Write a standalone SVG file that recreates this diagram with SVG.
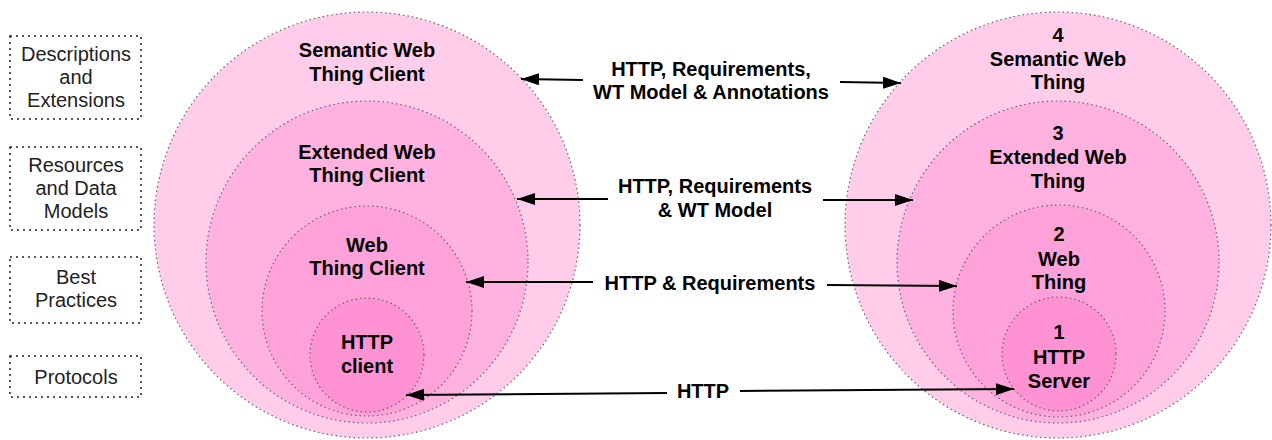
<svg xmlns="http://www.w3.org/2000/svg" width="1272" height="440" viewBox="0 0 1272 440">
<style>
.c{stroke:#666;stroke-width:1.2;stroke-dasharray:1.5 3}
.c1{fill:#FFCCEA}.c2{fill:#FFB2DF}.c3{fill:#FFA2D9}.c4{fill:#FF92D3}
.lbl{font-family:"Liberation Sans",Arial,sans-serif;font-size:20px;font-weight:bold;fill:#000;text-anchor:middle}
.box{fill:#fff;stroke:#222;stroke-width:1.5;stroke-dasharray:2 4}
.bt{font-family:"Liberation Sans",Arial,sans-serif;font-size:20px;fill:#222;text-anchor:middle}
.ln{stroke:#000;stroke-width:2;fill:none}
</style>
<defs>
<marker id="ah" viewBox="0 0 18 12" refX="18" refY="6" markerWidth="18" markerHeight="12" markerUnits="userSpaceOnUse" orient="auto-start-reverse">
<path d="M0,0 L18,6 L0,12 Z" fill="#000"/>
</marker>
</defs>
<rect width="1272" height="440" fill="#fff"/>
<g id="box-descriptions"><rect class="box" x="10" y="36" width="131" height="83"/><text class="bt" x="76" y="61">Descriptions</text><text class="bt" x="76" y="84">and</text><text class="bt" x="76" y="107">Extensions</text></g>
<g id="box-resources"><rect class="box" x="10" y="147" width="131" height="83"/><text class="bt" x="76" y="172">Resources</text><text class="bt" x="76" y="195">and Data</text><text class="bt" x="76" y="218">Models</text></g>
<g id="box-best"><rect class="box" x="10" y="257" width="131" height="66"/><text class="bt" x="76" y="284">Best</text><text class="bt" x="76" y="307">Practices</text></g>
<g id="box-protocols"><rect class="box" x="10" y="356" width="131" height="41"/><text class="bt" x="76" y="384">Protocols</text></g>

<g id="client-semantic"><circle class="c c1" cx="367" cy="225" r="213"/><text class="lbl" x="367" y="57">Semantic Web</text><text class="lbl" x="367" y="81">Thing Client</text></g>
<g id="client-extended"><circle class="c c2" cx="367" cy="262" r="161"/><text class="lbl" x="367" y="159">Extended Web</text><text class="lbl" x="367" y="182">Thing Client</text></g>
<g id="client-web"><circle class="c c3" cx="367" cy="311" r="105"/><text class="lbl" x="367" y="252">Web</text><text class="lbl" x="367" y="275">Thing Client</text></g>
<g id="client-http"><circle class="c c4" cx="367" cy="355" r="57"/><text class="lbl" x="367" y="349">HTTP</text><text class="lbl" x="367" y="373">client</text></g>

<g id="thing-semantic"><circle class="c c1" cx="1058" cy="225" r="213"/><text class="lbl" x="1058" y="42">4</text><text class="lbl" x="1058" y="66">Semantic Web</text><text class="lbl" x="1058" y="89">Thing</text></g>
<g id="thing-extended"><circle class="c c2" cx="1058" cy="262" r="161"/><text class="lbl" x="1058" y="140">3</text><text class="lbl" x="1058" y="164">Extended Web</text><text class="lbl" x="1058" y="188">Thing</text></g>
<g id="thing-web"><circle class="c c3" cx="1059" cy="311" r="106"/><text class="lbl" x="1059" y="241">2</text><text class="lbl" x="1059" y="266">Web</text><text class="lbl" x="1059" y="289">Thing</text></g>
<g id="thing-http"><circle class="c c4" cx="1059" cy="354" r="57"/><text class="lbl" x="1059" y="339">1</text><text class="lbl" x="1059" y="364">HTTP</text><text class="lbl" x="1059" y="388">Server</text></g>

<g id="connectors">
<line class="ln" x1="583" y1="80" x2="521" y2="79" marker-end="url(#ah)"/>
<line class="ln" x1="840" y1="82" x2="901" y2="83" marker-end="url(#ah)"/>
<text class="lbl" x="711" y="76">HTTP, Requirements,</text>
<text class="lbl" x="711" y="99">WT Model &amp; Annotations</text>

<line class="ln" x1="608" y1="199" x2="517" y2="199" marker-end="url(#ah)"/>
<line class="ln" x1="823" y1="200" x2="913" y2="200" marker-end="url(#ah)"/>
<text class="lbl" x="715" y="193">HTTP, Requirements</text>
<text class="lbl" x="715" y="217">&amp; WT Model</text>

<line class="ln" x1="593" y1="282" x2="466" y2="282" marker-end="url(#ah)"/>
<line class="ln" x1="827" y1="285" x2="957" y2="286" marker-end="url(#ah)"/>
<text class="lbl" x="710" y="290">HTTP &amp; Requirements</text>

<line class="ln" x1="667" y1="393" x2="406" y2="395" marker-end="url(#ah)"/>
<line class="ln" x1="740" y1="391" x2="1014" y2="389" marker-end="url(#ah)"/>
<text class="lbl" x="703" y="398">HTTP</text>
</g>
</svg>
